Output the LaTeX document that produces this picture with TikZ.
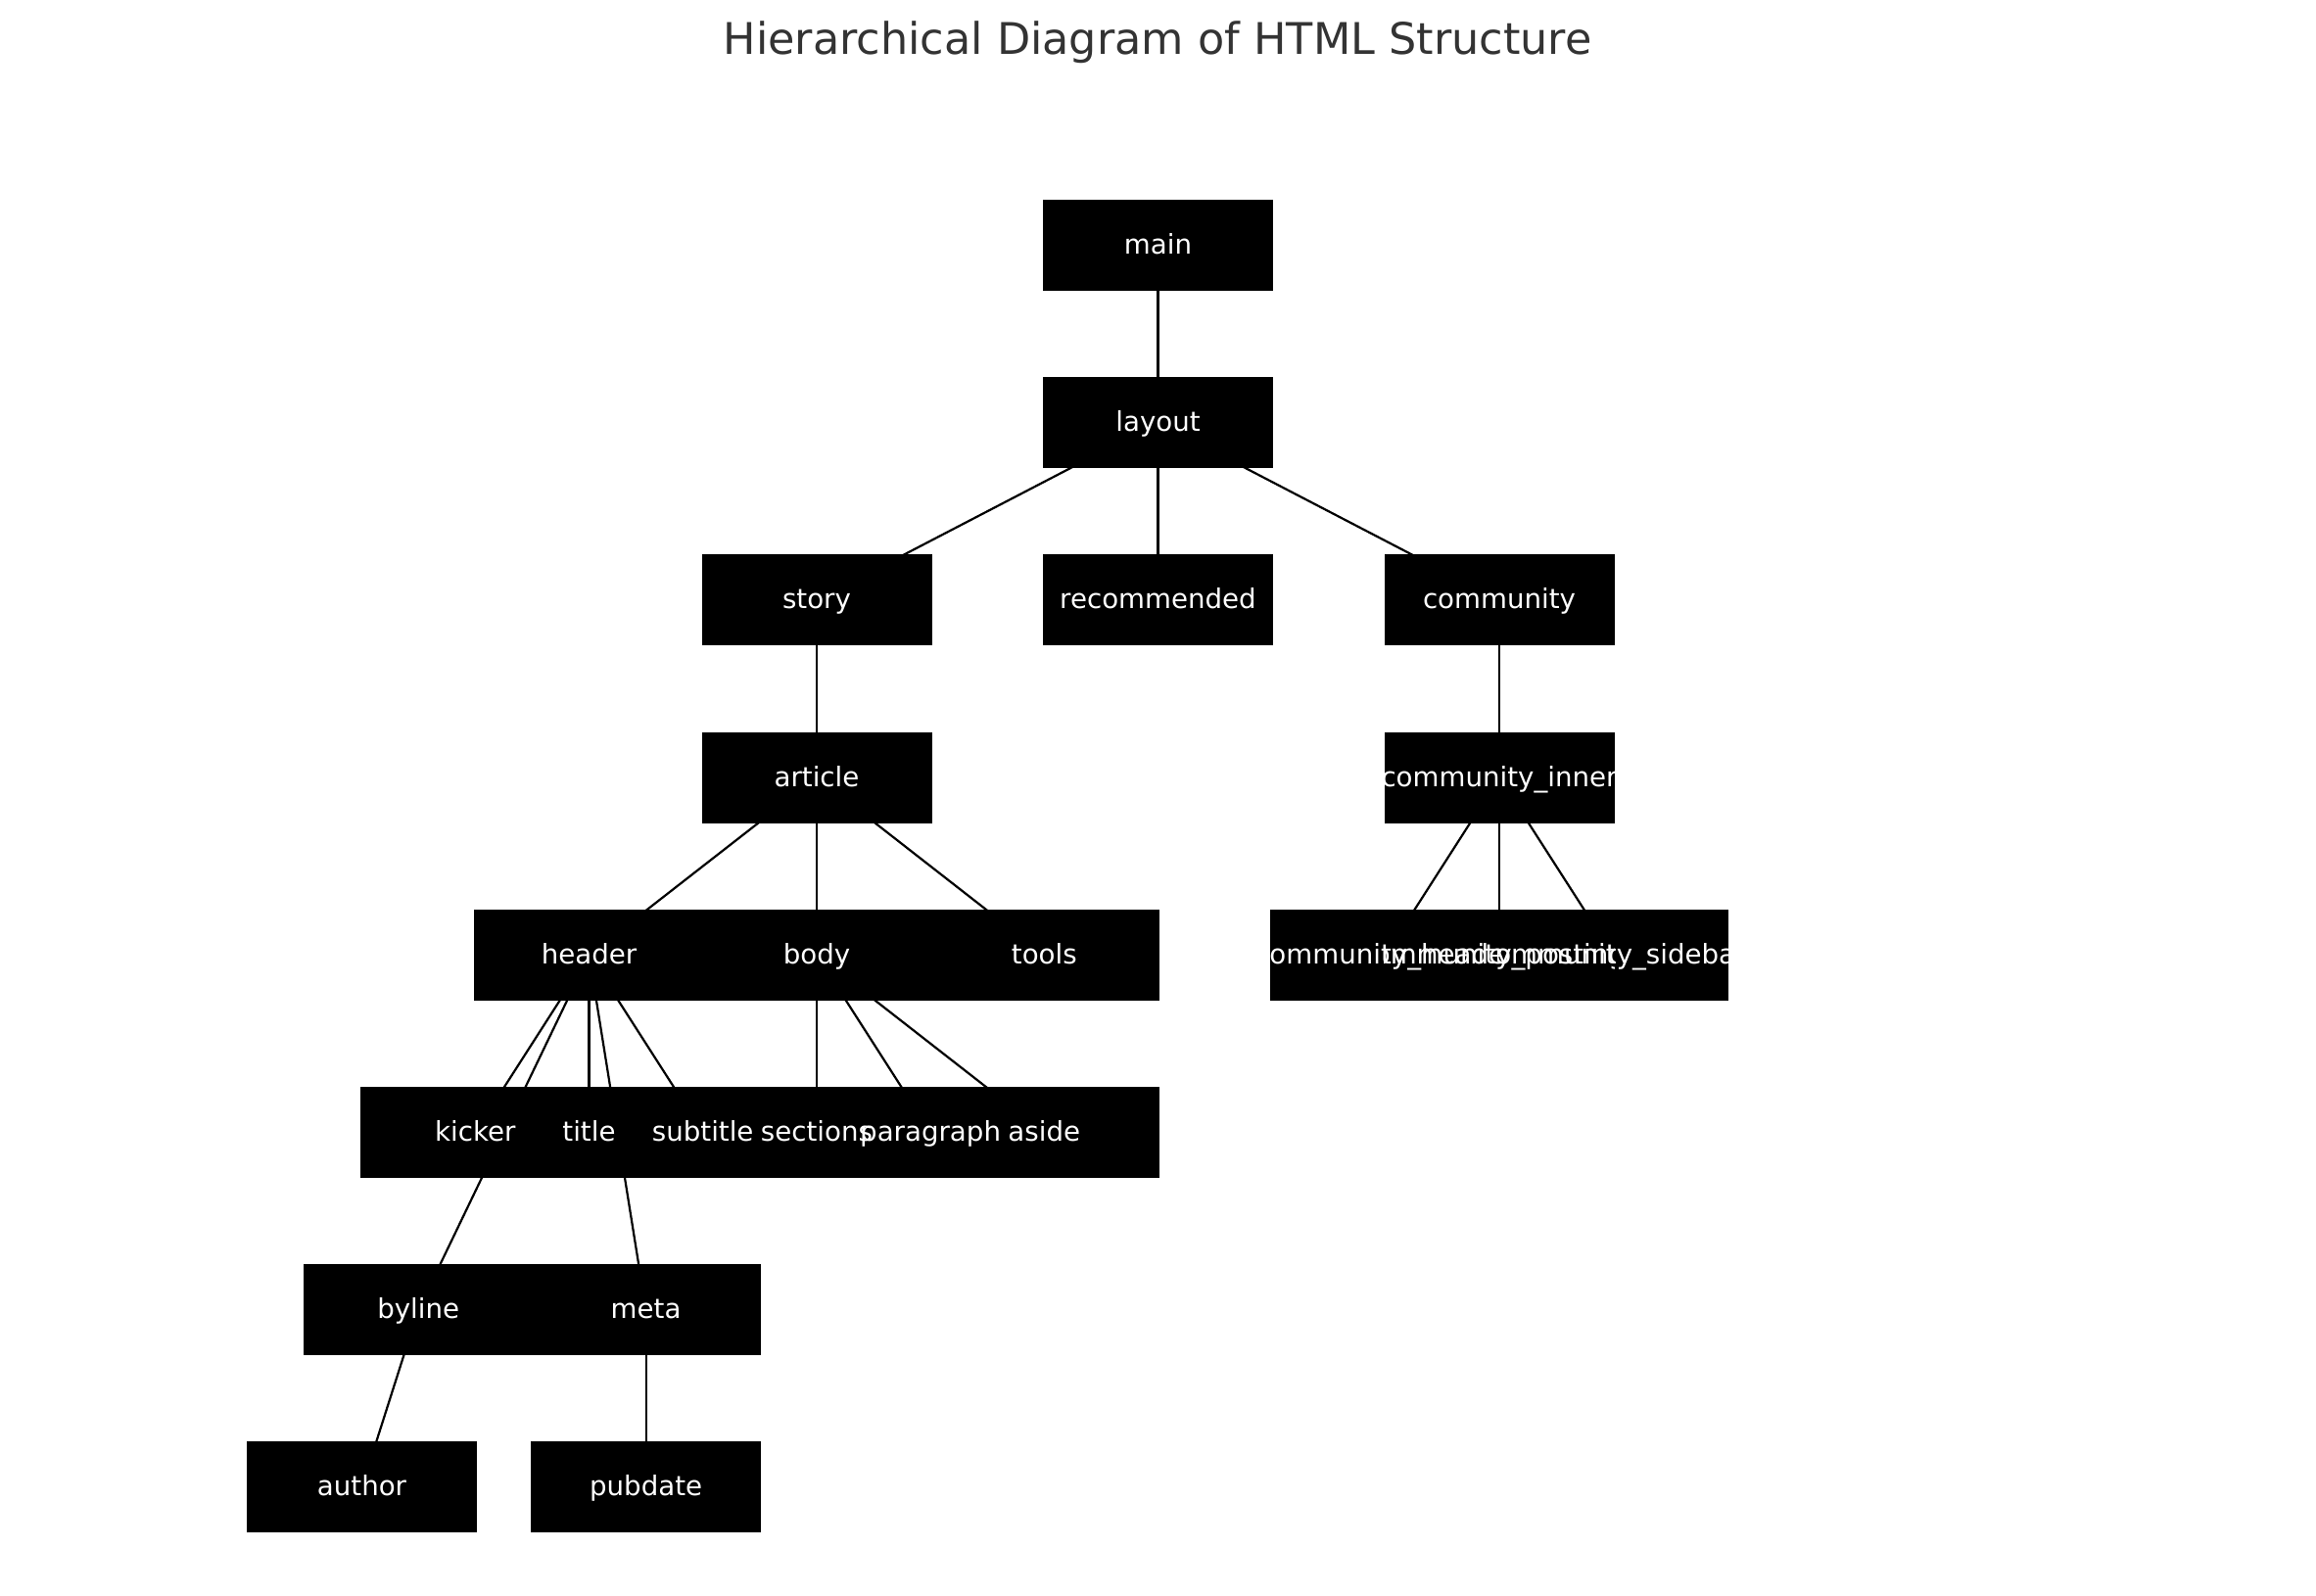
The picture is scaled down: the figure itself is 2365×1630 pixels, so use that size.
\documentclass[tikz,border=0pt]{standalone}
\usepackage{fontspec}
\setmainfont{DejaVu Sans}
\pgfdeclarelayer{background}
\pgfsetlayers{background,main}
\definecolor{titlegray}{HTML}{333333}
\newcommand\mylbl[2]{\begin{scope}\clip (#1.south west) rectangle (#1.north east);\node[lbl] (#1-t) at ([yshift=-2.75pt]#1.center) {#2};\end{scope}}
\begin{document}
\begin{tikzpicture}[x=0.3pt,y=-0.3pt,
  box/.style={draw=none,fill=black,minimum width=70.5pt,minimum height=27.9pt,inner sep=0pt,outer sep=0pt},
  lbl/.style={text=white,font=\fontsize{8.3}{10}\selectfont,anchor=base,inner sep=0pt},
  edge/.style={line width=0.66pt,draw=black}]
\useasboundingbox (0,0) rectangle (2365,1630);
\node[font=\fontsize{13.35}{16}\selectfont,text=titlegray,anchor=base,inner sep=0pt] (ttl) at (1182,55.5) {Hierarchical Diagram of HTML Structure};
% boxes
\node[box] (main) at (1182.5,250.4) {};
\node[box] (layout) at (1182.5,431.6) {};
\node[box] (story) at (834,612.8) {};
\node[box] (recommended) at (1182.5,612.8) {};
\node[box] (community) at (1531,612.8) {};
\node[box] (article) at (834,794) {};
\node[box] (cinner) at (1531,794) {};
\node[box] (header) at (601.5,975.2) {};
\node[box] (body) at (834,975.2) {};
\node[box] (tools) at (1066.3,975.2) {};
\node[box] (cheader) at (1414.9,975.2) {};
\node[box] (cpostings) at (1531,975.2) {};
\node[box] (csidebar) at (1647.3,975.2) {};
\node[box] (kicker) at (485.3,1156.4) {};
\node[box] (title) at (601.5,1156.4) {};
\node[box] (subtitle) at (717.7,1156.4) {};
\node[box] (sections) at (834,1156.4) {};
\node[box] (paragraph) at (950.1,1156.4) {};
\node[box] (aside) at (1066.3,1156.4) {};
\node[box] (byline) at (427.2,1337.6) {};
\node[box] (meta) at (659.6,1337.6) {};
\node[box] (author) at (369.5,1518.8) {};
\node[box] (pubdate) at (659.6,1518.8) {};
% edges
\begin{pgfonlayer}{background}
\fill[white] (0,0) rectangle (2365,1630);
\draw[edge] (main.center) -- (layout.center);
\draw[edge] (layout.center) -- (story.center);
\draw[edge] (layout.center) -- (recommended.center);
\draw[edge] (layout.center) -- (community.center);
\draw[edge] (story.center) -- (article.center);
\draw[edge] (community.center) -- (cinner.center);
\draw[edge] (article.center) -- (header.center);
\draw[edge] (article.center) -- (body.center);
\draw[edge] (article.center) -- (tools.center);
\draw[edge] (cinner.center) -- (cheader.center);
\draw[edge] (cinner.center) -- (cpostings.center);
\draw[edge] (cinner.center) -- (csidebar.center);
\draw[edge] (header.center) -- (kicker.center);
\draw[edge] (header.center) -- (title.center);
\draw[edge] (header.center) -- (subtitle.center);
\draw[edge] (header.center) -- (byline.center);
\draw[edge] (header.center) -- (meta.center);
\draw[edge] (body.center) -- (sections.center);
\draw[edge] (body.center) -- (paragraph.center);
\draw[edge] (body.center) -- (aside.center);
\draw[edge] (byline.center) -- (author.center);
\draw[edge] (meta.center) -- (pubdate.center);
\end{pgfonlayer}
% labels
\mylbl{main}{main}
\mylbl{layout}{layout}
\mylbl{story}{story}
\mylbl{recommended}{recommended}
\mylbl{community}{community}
\mylbl{article}{article}
\mylbl{cinner}{community\_inner}
\mylbl{header}{header}
\mylbl{body}{body}
\mylbl{tools}{tools}
\mylbl{cheader}{community\_header}
\mylbl{cpostings}{community\_postings}
\mylbl{csidebar}{community\_sidebar}
\mylbl{kicker}{kicker}
\mylbl{title}{title}
\mylbl{subtitle}{subtitle}
\mylbl{sections}{sections}
\mylbl{paragraph}{paragraph}
\mylbl{aside}{aside}
\mylbl{byline}{byline}
\mylbl{meta}{meta}
\mylbl{author}{author}
\mylbl{pubdate}{pubdate}
\end{tikzpicture}
\end{document}
